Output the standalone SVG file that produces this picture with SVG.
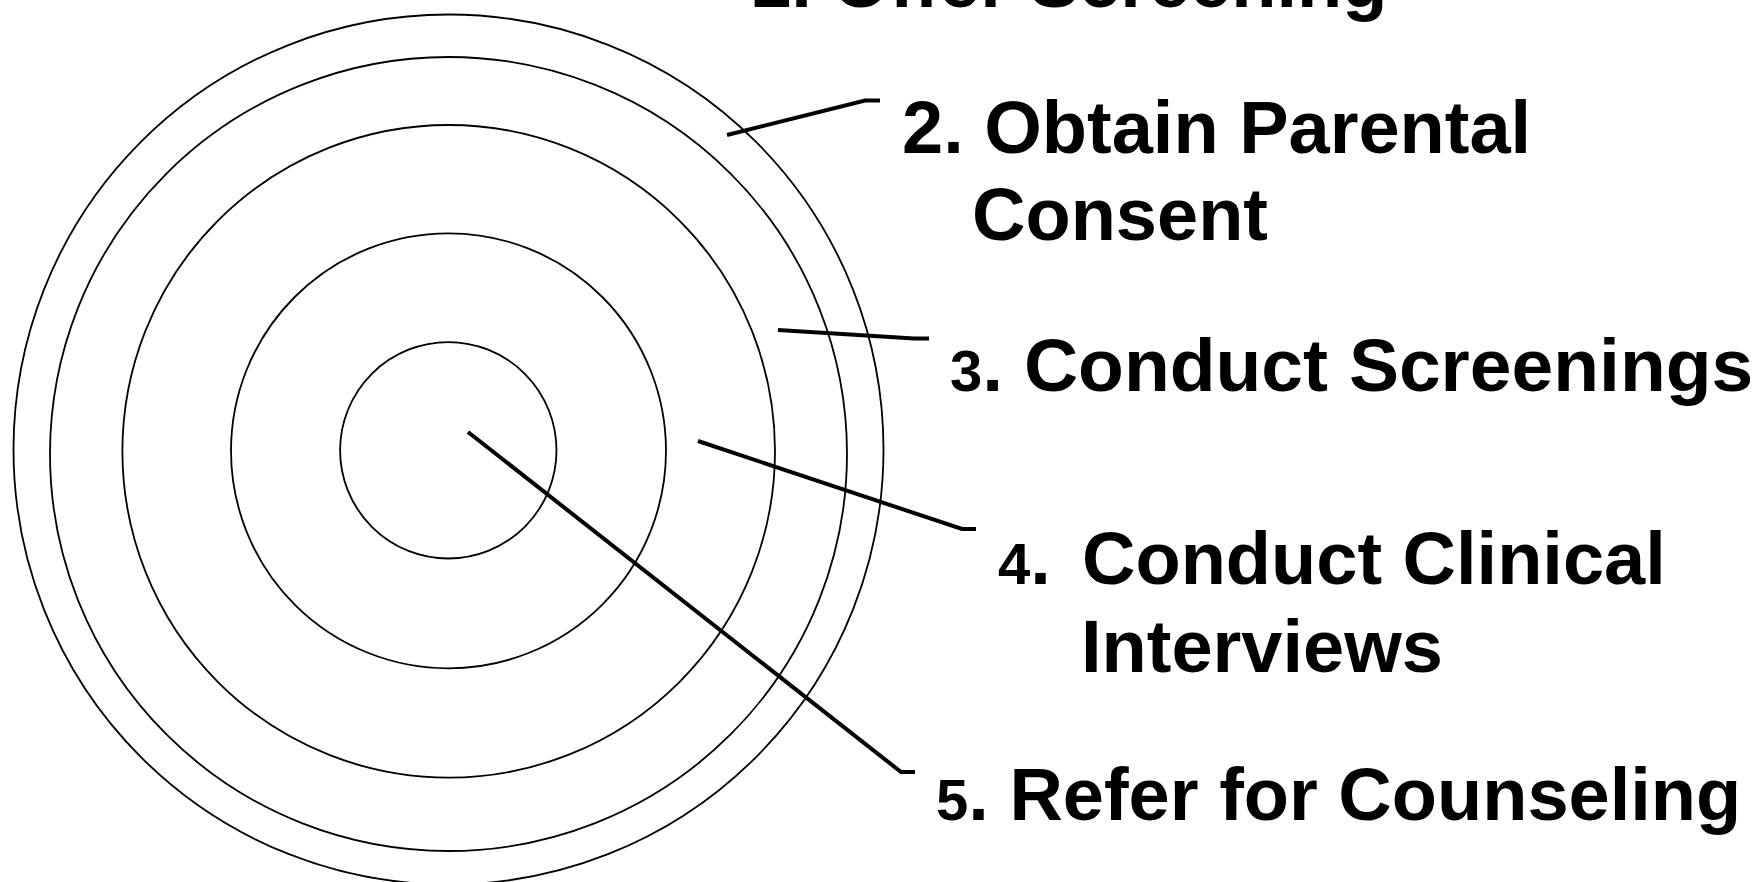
<svg xmlns="http://www.w3.org/2000/svg" width="1754" height="882" viewBox="0 0 1754 882">
<style>
.ring{fill:none;stroke:#000;stroke-width:1.8}
.lead{fill:none;stroke:#000;stroke-width:4;stroke-linejoin:miter}
.lbl{font-family:"Liberation Sans",Arial,sans-serif;font-weight:bold;font-size:74px;fill:#000}
.num{font-size:58px}
</style>
<rect width="1754" height="882" fill="#fff"/>
<g id="ring1"><circle class="ring" cx="448.5" cy="449.5" r="435"/></g>
<g id="ring2"><ellipse class="ring" cx="448.5" cy="454" rx="398.5" ry="397"/></g>
<g id="ring3"><circle class="ring" cx="448.7" cy="451.3" r="326.3"/></g>
<g id="ring4"><circle class="ring" cx="448.5" cy="450.8" r="217.5"/></g>
<g id="ring5"><circle class="ring" cx="448.3" cy="450.3" r="108.2"/></g>
<g id="connectors">
<polyline class="lead" points="727,135 865,100.5 880,100.5"/>
<polyline class="lead" points="778,330 914,338.5 929,338.5"/>
<polyline class="lead" points="698,441 962,529 976,529"/>
<polyline class="lead" points="468,432 901,772 915,772"/>
</g>
<g id="label1"><text class="lbl" x="750" y="7">1. Offer Screening</text></g>
<g id="label2"><text class="lbl" x="902" y="153">2. Obtain Parental</text><text class="lbl" x="972" y="240">Consent</text></g>
<g id="label3"><text class="lbl" x="950" y="391" style="font-size:75px"><tspan class="num">3</tspan>. Conduct Screenings</text></g>
<g id="label4"><text class="lbl" x="998" y="584"><tspan class="num">4</tspan>. <tspan x="1082">Conduct Clinical</tspan></text><text class="lbl" x="1081" y="672">Interviews</text></g>
<g id="label5"><text class="lbl" x="936" y="820"><tspan class="num">5</tspan>. Refer for Counseling</text></g>
</svg>
